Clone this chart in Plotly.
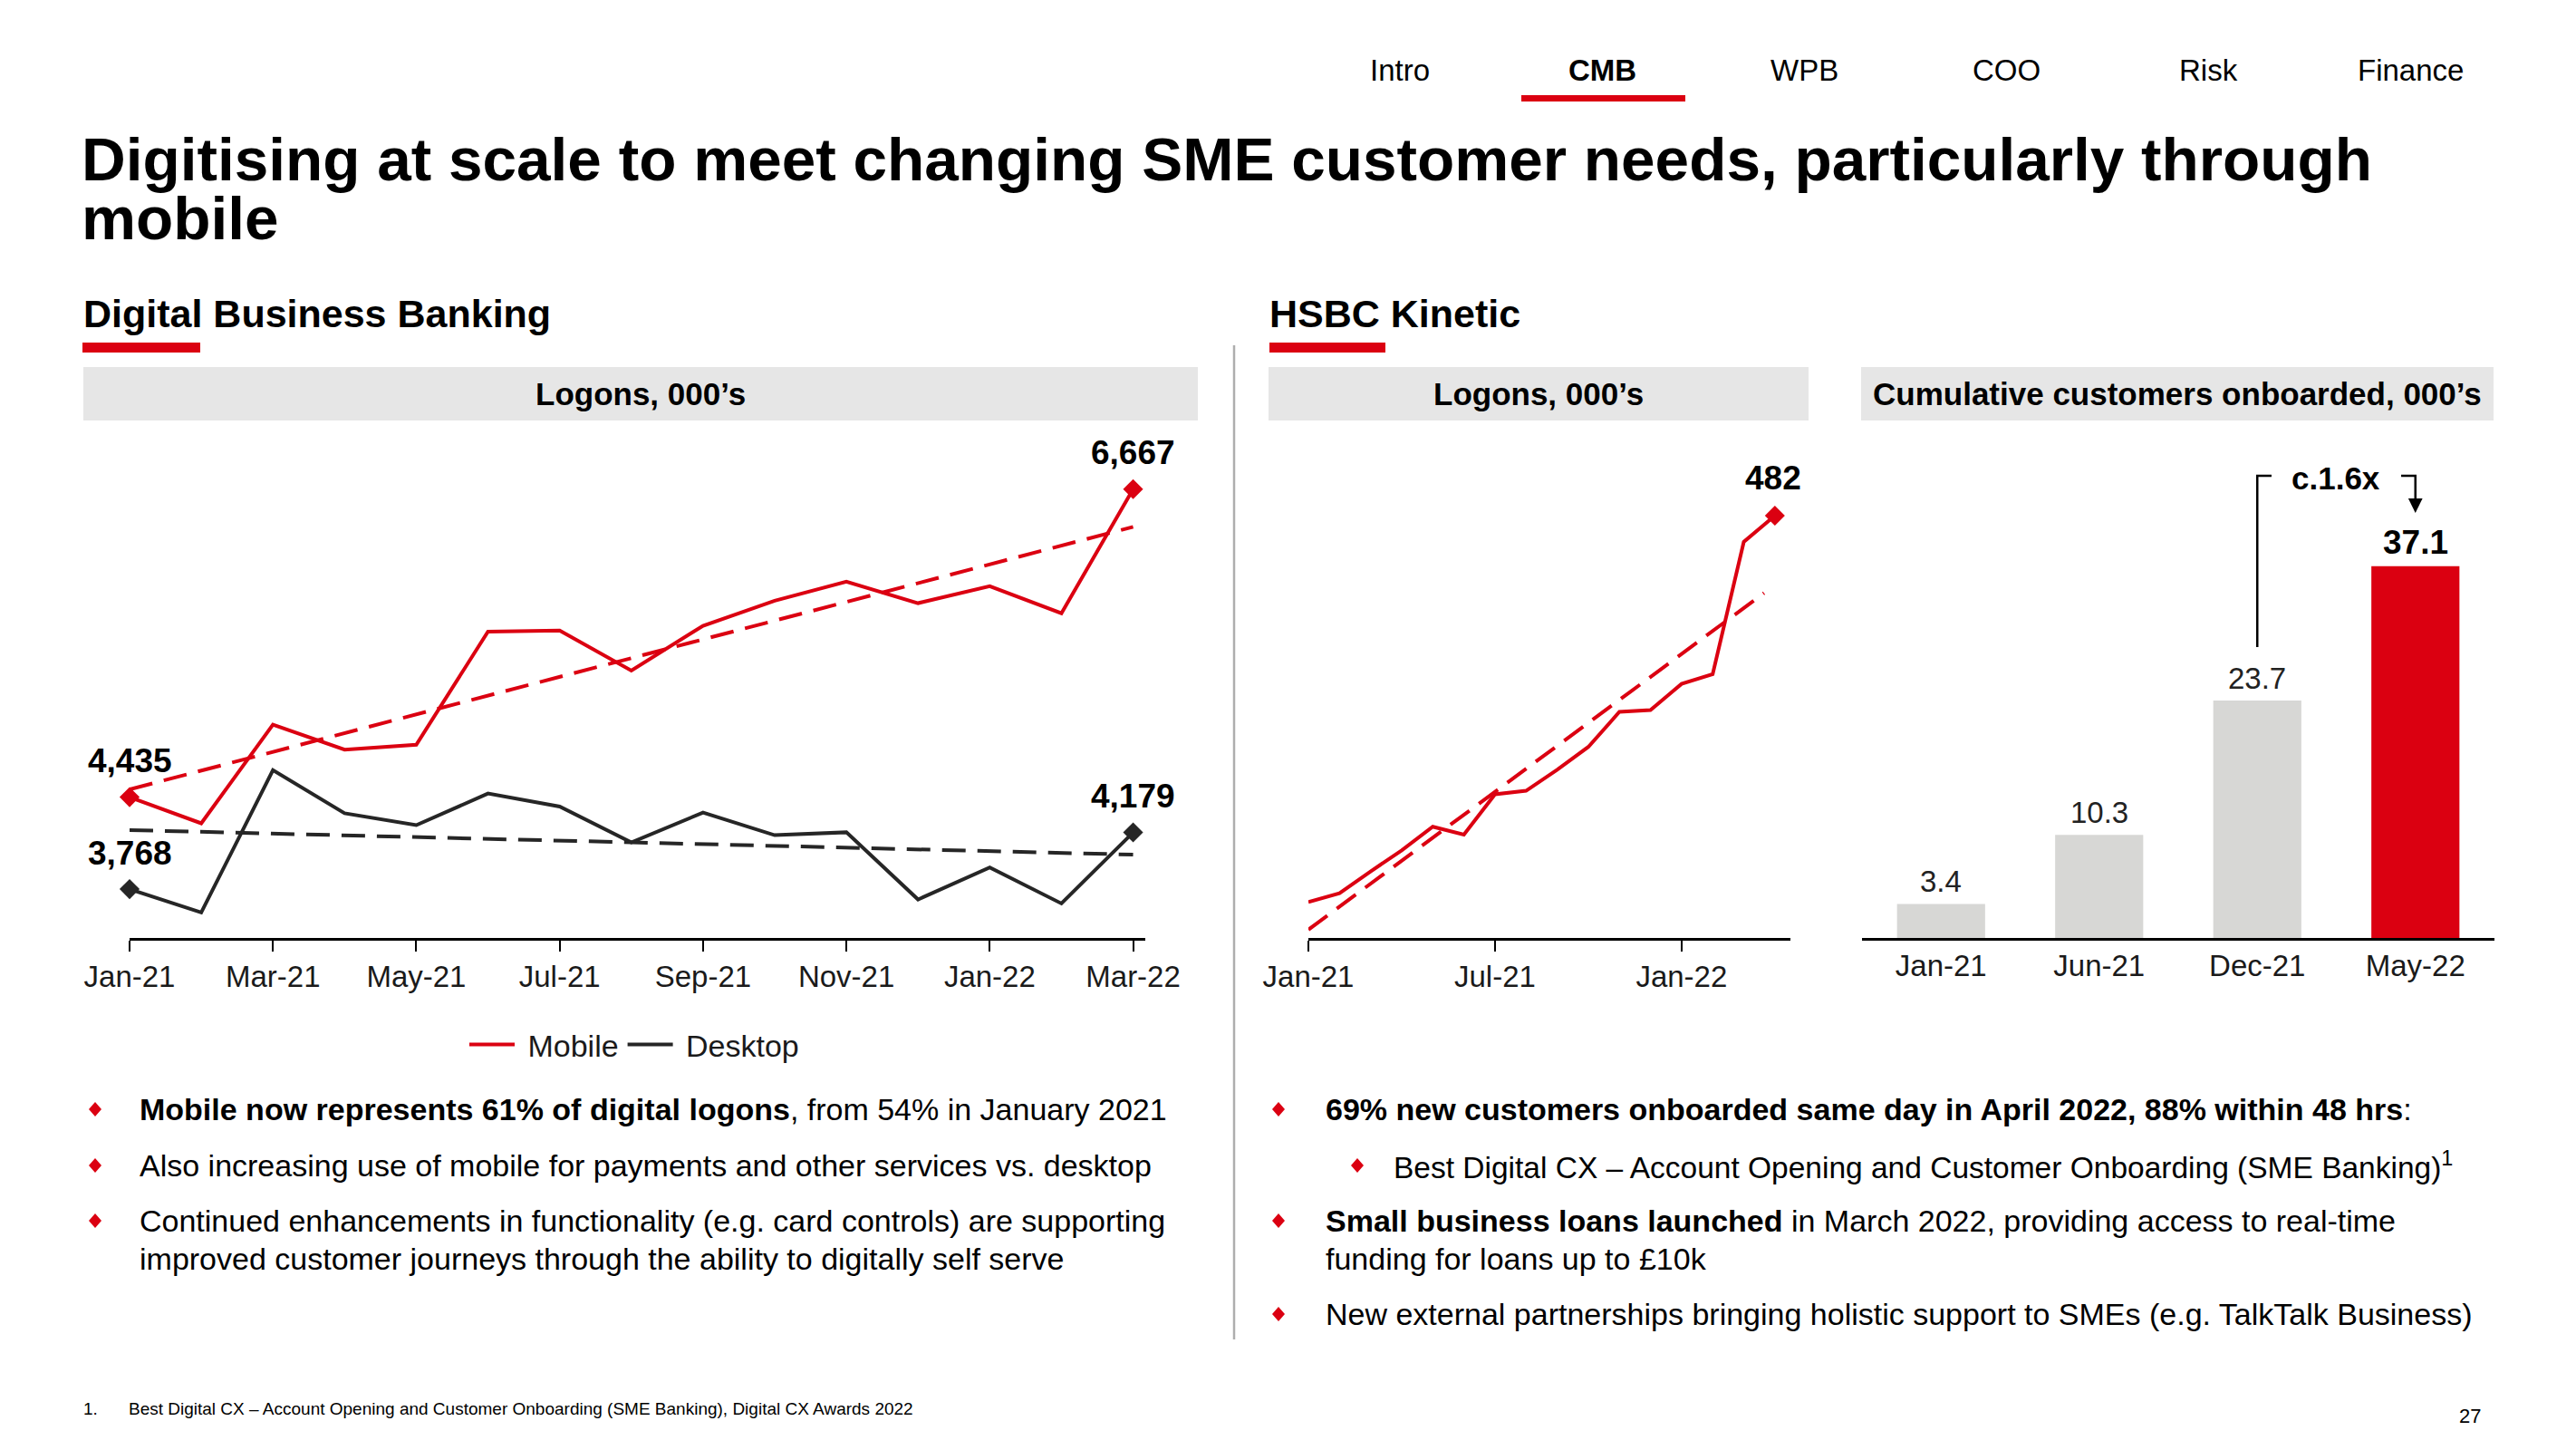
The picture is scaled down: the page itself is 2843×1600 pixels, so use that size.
import numpy as np
import plotly.graph_objects as go

W, H = 2843, 1600


def X(px):
    return px / W


def Y(py):
    return 1 - py / H


RED = "#DB0011"
DARK = "#262626"
BOX_GREY = "#E6E6E6"
BAR_GREY = "#D7D7D5"
SEP_GREY = "#AEAEAE"
FONT = "Liberation Sans, Arial, sans-serif"

# ---------------- data ----------------
dbb_months = ["Jan-21", "Feb-21", "Mar-21", "Apr-21", "May-21", "Jun-21", "Jul-21", "Aug-21",
              "Sep-21", "Oct-21", "Nov-21", "Dec-21", "Jan-22", "Feb-22", "Mar-22"]
dbb_mobile = [4435, 4245, 4961, 4779, 4815, 5635, 5643, 5352, 5677, 5859, 5997, 5841, 5964, 5768, 6667]
dbb_desktop = [3768, 3599, 4630, 4318, 4232, 4461, 4367, 4107, 4323, 4159, 4180, 3693, 3925, 3664, 4179]
dbb_tick_labels = ["Jan-21", "Mar-21", "May-21", "Jul-21", "Sep-21", "Nov-21", "Jan-22", "Mar-22"]

kin_months = ["Jan-21", "Feb-21", "Mar-21", "Apr-21", "May-21", "Jun-21", "Jul-21", "Aug-21",
              "Sep-21", "Oct-21", "Nov-21", "Dec-21", "Jan-22", "Feb-22", "Mar-22", "Apr-22"]
kin_logons = [41, 51, 76, 100, 127, 118, 164, 168, 192, 218, 258, 260, 290, 301, 452, 482]
kin_tick_labels = ["Jan-21", "Jul-21", "Jan-22"]

onb_periods = ["Jan-21", "Jun-21", "Dec-21", "May-22"]
onb_values = [3.4, 10.3, 23.7, 37.1]

# ---------------- derived ----------------
dbb_x = list(range(len(dbb_months)))
kin_x = list(range(len(kin_months)))
dbb_tickvals = [dbb_months.index(m) for m in dbb_tick_labels]
kin_tickvals = [kin_months.index(m) for m in kin_tick_labels]

mob_fit = np.polyfit(dbb_x, dbb_mobile, 1)
desk_fit = np.polyfit(dbb_x, dbb_desktop, 1)
kin_fit = np.polyfit(kin_x, kin_logons, 1)
dbb_trend_x = [dbb_x[0], dbb_x[-1]]
kin_trend_x = [kin_x[0], kin_x[-1] - 0.35]

fig = go.Figure()

# Digital Business Banking
fig.add_trace(go.Scatter(x=dbb_x, y=dbb_mobile, mode="lines", name="\u00a0Mobile",
                         line=dict(color=RED, width=4), xaxis="x", yaxis="y"))
fig.add_trace(go.Scatter(x=dbb_x, y=dbb_desktop, mode="lines", name="\u00a0Desktop",
                         line=dict(color=DARK, width=4), xaxis="x", yaxis="y"))
fig.add_trace(go.Scatter(x=dbb_trend_x, y=np.polyval(mob_fit, dbb_trend_x), mode="lines",
                         line=dict(color=RED, width=4, dash="26px,13px"), showlegend=False,
                         xaxis="x", yaxis="y"))
fig.add_trace(go.Scatter(x=dbb_trend_x, y=np.polyval(desk_fit, dbb_trend_x), mode="lines",
                         line=dict(color=DARK, width=4, dash="26px,13px"), showlegend=False,
                         xaxis="x", yaxis="y"))
ends = [0, len(dbb_x) - 1]
fig.add_trace(go.Scatter(x=[dbb_x[i] for i in ends], y=[dbb_mobile[i] for i in ends], mode="markers",
                         marker=dict(symbol="diamond", size=17, color=RED), showlegend=False,
                         cliponaxis=False, xaxis="x", yaxis="y"))
fig.add_trace(go.Scatter(x=[dbb_x[i] for i in ends], y=[dbb_desktop[i] for i in ends], mode="markers",
                         marker=dict(symbol="diamond", size=17, color=DARK), showlegend=False,
                         cliponaxis=False, xaxis="x", yaxis="y"))

# HSBC Kinetic logons
fig.add_trace(go.Scatter(x=kin_x, y=kin_logons, mode="lines", line=dict(color=RED, width=4),
                         showlegend=False, xaxis="x2", yaxis="y2"))
fig.add_trace(go.Scatter(x=kin_trend_x, y=np.polyval(kin_fit, kin_trend_x), mode="lines",
                         line=dict(color=RED, width=4, dash="26px,13px"), showlegend=False,
                         xaxis="x2", yaxis="y2"))
fig.add_trace(go.Scatter(x=[kin_x[-1]], y=[kin_logons[-1]], mode="markers",
                         marker=dict(symbol="diamond", size=17, color=RED), showlegend=False,
                         cliponaxis=False, xaxis="x2", yaxis="y2"))

# Cumulative customers onboarded
bar_colors = [BAR_GREY] * (len(onb_values) - 1) + [RED]
fig.add_trace(go.Bar(x=onb_periods, y=onb_values, marker=dict(color=bar_colors, line=dict(width=0)),
                     width=0.557, showlegend=False, xaxis="x3", yaxis="y3"))

axis_common = dict(showgrid=False, zeroline=False, showline=True, linecolor="#000000", linewidth=2.5,
                   tickfont=dict(family=FONT, size=33, color="#1a1a1a"), fixedrange=True,
                   automargin=False)

fig.update_layout(
    width=W, height=H, margin=dict(l=0, r=0, t=0, b=0, pad=0, autoexpand=False),
    paper_bgcolor="white", plot_bgcolor="rgba(0,0,0,0)",
    font=dict(family=FONT, color="#000000"),
    showlegend=True,
    legend=dict(orientation="h", x=X(700), xanchor="center", y=Y(1153), yanchor="middle",
                font=dict(family=FONT, size=34, color="#1a1a1a"), bgcolor="rgba(0,0,0,0)",
                itemwidth=50, tracegroupgap=0),
    xaxis=dict(domain=[X(143), X(1264)], range=[0, 14.17], anchor="y",
               tickmode="array", tickvals=dbb_tickvals, ticktext=dbb_tick_labels,
               ticks="outside", ticklen=12, tickwidth=2, tickcolor="#000000", **axis_common),
    yaxis=dict(domain=[Y(1035), Y(480)], range=[3414, 7060], anchor="x", visible=False, automargin=False),
    xaxis2=dict(domain=[X(1444), X(1976)], range=[0, 15.5], anchor="y2",
                tickmode="array", tickvals=kin_tickvals, ticktext=kin_tick_labels,
                ticks="outside", ticklen=12, tickwidth=2, tickcolor="#000000", **axis_common),
    yaxis2=dict(domain=[Y(1035), Y(480)], range=[0, 574], anchor="x2", visible=False, automargin=False),
    xaxis3=dict(domain=[X(2055), X(2753)], range=[-0.5, 3.5], anchor="y3", type="category",
                ticks="", **axis_common),
    yaxis3=dict(domain=[Y(1035), Y(480)], range=[0, 50.2], anchor="x3", visible=False, automargin=False),
)

shapes = []
ann = []


def rect(x0, y0, x1, y1, color):
    shapes.append(dict(type="rect", xref="paper", yref="paper", x0=X(x0), x1=X(x1), y0=Y(y1), y1=Y(y0),
                       fillcolor=color, line=dict(width=0), layer="below"))


def text(x, y, s, size, bold=False, xanchor="left", yanchor="middle", color="#000000", family=FONT):
    ann.append(dict(xref="paper", yref="paper", x=X(x), y=Y(y), text=(f"<b>{s}</b>" if bold else s),
                    showarrow=False, xanchor=xanchor, yanchor=yanchor,
                    font=dict(family=family, size=size, color=color)))


def diamond(cx, cy, w=7, h=8):
    path = f"M {X(cx)},{Y(cy - h)} L {X(cx + w)},{Y(cy)} L {X(cx)},{Y(cy + h)} L {X(cx - w)},{Y(cy)} Z"
    shapes.append(dict(type="path", xref="paper", yref="paper", path=path, fillcolor=RED,
                       line=dict(width=0)))


# navigation
nav_items = ["Intro", "CMB", "WPB", "COO", "Risk", "Finance"]
nav_x = [1545, 1768, 1991, 2214, 2437, 2660]
for item, nx in zip(nav_items, nav_x):
    text(nx, 78, item, 33, bold=(item == "CMB"), xanchor="center")
rect(1679, 105, 1860, 112, RED)

# title
text(88, 176, "Digitising at scale to meet changing SME customer needs, particularly through", 67.5, bold=True)
text(88, 240, "mobile", 67.5, bold=True)

# section headings
text(90, 346, "Digital Business Banking", 43, bold=True)
rect(91, 378, 221, 389, RED)
text(1399, 346, "HSBC Kinetic", 43, bold=True)
rect(1401, 378, 1529, 389, RED)

# grey headers
rect(92, 405, 1322, 464, BOX_GREY)
rect(1400, 405, 1996, 464, BOX_GREY)
rect(2054, 405, 2752, 464, BOX_GREY)
text(707, 435, "Logons, 000’s", 35, bold=True, xanchor="center")
text(1698, 435, "Logons, 000’s", 35, bold=True, xanchor="center")
text(2403, 435, "Cumulative customers onboarded, 000’s", 35, bold=True, xanchor="center")

# separator
shapes.append(dict(type="line", xref="paper", yref="paper", x0=X(1362), x1=X(1362), y0=Y(381), y1=Y(1478),
                   line=dict(color=SEP_GREY, width=2.5)))

# data labels on line charts
for i in ends:
    ann.append(dict(xref="x", yref="y", x=dbb_x[i], y=dbb_mobile[i], text=f"<b>{dbb_mobile[i]:,}</b>",
                    showarrow=False, yshift=40, font=dict(family=FONT, size=37, color="#000000")))
    ann.append(dict(xref="x", yref="y", x=dbb_x[i], y=dbb_desktop[i], text=f"<b>{dbb_desktop[i]:,}</b>",
                    showarrow=False, yshift=40, font=dict(family=FONT, size=37, color="#000000")))
ann.append(dict(xref="x2", yref="y2", x=kin_x[-1], y=kin_logons[-1], text=f"<b>{kin_logons[-1]:,}</b>",
                showarrow=False, yshift=41, xshift=-2, font=dict(family=FONT, size=37, color="#000000")))

# bar labels
for i, (p, v) in enumerate(zip(onb_periods, onb_values)):
    last = i == len(onb_values) - 1
    ann.append(dict(xref="x3", yref="y3", x=p, y=v, text=(f"<b>{v}</b>" if last else f"{v}"),
                    showarrow=False, yanchor="bottom", yshift=4,
                    font=dict(family=FONT, size=37 if last else 33, color="#000000" if last else "#222222")))

# c.1.6x bracket
bx0, bx1 = 2, 3
shapes.append(dict(type="path", xref="x3", yref="paper",
                   path=f"M {bx0},{Y(714)} L {bx0},{Y(525)} L {bx0 + 0.09},{Y(525)}",
                   line=dict(color="#000000", width=2.5)))
shapes.append(dict(type="path", xref="x3", yref="paper",
                   path=f"M {bx1 - 0.09},{Y(525)} L {bx1},{Y(525)} L {bx1},{Y(552)}",
                   line=dict(color="#000000", width=2.5)))
shapes.append(dict(type="path", xref="x3", yref="paper",
                   path=f"M {bx1 - 0.045},{Y(550)} L {bx1 + 0.045},{Y(550)} L {bx1},{Y(566)} Z",
                   fillcolor="#000000", line=dict(width=0)))
text(2578, 527, "c.1.6x", 35, bold=True, xanchor="center")

# bullets - left
BUL = 34
diamond(105, 1224)
text(152, 1224, "<b>Mobile now represents 61% of digital logons</b>, from 54% in January 2021", BUL)
diamond(105, 1286)
text(152, 1286, "Also increasing use of mobile for payments and other services vs. desktop", BUL)
diamond(105, 1347)
text(152, 1347, "Continued enhancements in functionality (e.g. card controls) are supporting", BUL)
text(152, 1389, "improved customer journeys through the ability to digitally self serve", BUL)

# bullets - right
diamond(1411, 1224)
text(1461, 1224, "<b>69% new customers onboarded same day in April 2022, 88% within 48 hrs</b>:", BUL)
diamond(1498, 1286)
text(1536, 1286, "Best Digital CX – Account Opening and Customer Onboarding (SME Banking)<sup>1</sup>", 33.5)
diamond(1411, 1347)
text(1461, 1347, "<b>Small business loans launched</b> in March 2022, providing access to real-time", BUL)
text(1461, 1389, "funding for loans up to £10k", BUL)
diamond(1411, 1450)
text(1461, 1450, "New external partnerships bringing holistic support to SMEs (e.g. TalkTalk Business)", BUL)

# footnote and page number
text(90, 1554, "1.", 19)
text(140, 1554, "Best Digital CX – Account Opening and Customer Onboarding (SME Banking), Digital CX Awards 2022", 19)
text(2740, 1562, "27", 22, xanchor="right")

fig.update_layout(shapes=shapes, annotations=ann)
fig.write_html("out.html", config={"displayModeBar": False},
               post_script="document.body.style.margin='0';")
